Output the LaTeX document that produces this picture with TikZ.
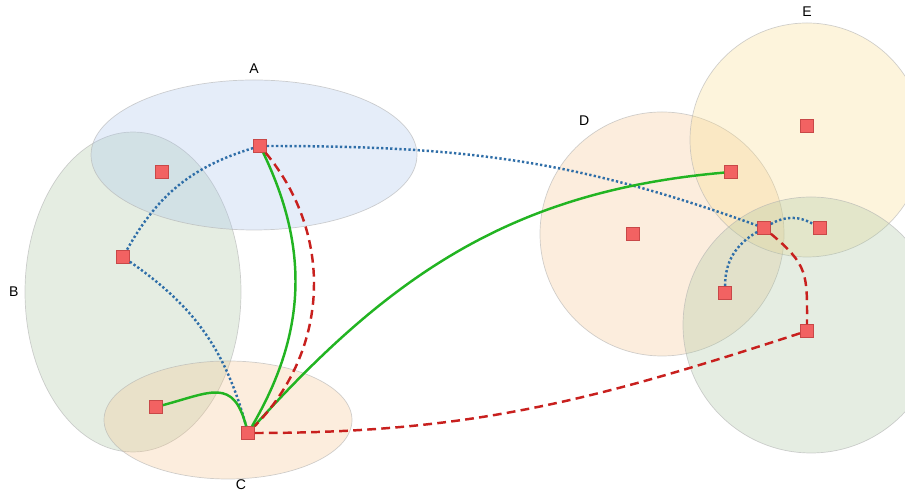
\documentclass[tikz,border=0pt]{standalone}
\usepackage{fontspec}
\setmainfont{Liberation Sans}
\usepackage{xcolor}
\usetikzlibrary{shapes.geometric,positioning}

\definecolor{setblue}{HTML}{A9C4EB}
\definecolor{setgreen}{HTML}{A8C5A0}
\definecolor{setpeach}{HTML}{F5C58E}
\definecolor{setyellow}{HTML}{F8DC8C}
\definecolor{elemfill}{HTML}{F26262}
\definecolor{elemborder}{HTML}{C84848}
\definecolor{linkgreen}{HTML}{22B422}
\definecolor{linkblue}{HTML}{2F6EA8}
\definecolor{linkred}{HTML}{C8201E}

\begin{document}
\begin{tikzpicture}[
  set/.style={ellipse,draw=gray!60,draw opacity=0.6,fill opacity=0.3,line width=0.4pt,inner sep=0pt},
  elem/.style={rectangle,draw=elemborder,fill=elemfill,minimum size=0.26cm,inner sep=0pt,line width=0.4pt},
  greenlink/.style={draw=linkgreen,line width=1.4pt},
  bluelink/.style={draw=linkblue,line width=1.4pt,dash pattern=on 1.3pt off 1.3pt},
  redlink/.style={draw=linkred,line width=1.4pt,dash pattern=on 5pt off 3pt},
  every label/.style={font=\footnotesize}
]
\useasboundingbox (0,0) rectangle (18.1,9.88);
\clip (0,0) rectangle (18.1,9.88);

% Sets
\node[set,fill=setgreen,minimum width=4.32cm,minimum height=6.4cm,label=left:B] (setB) at (2.66,4.04) {};
\node[set,fill=setblue,minimum width=6.52cm,minimum height=3.0cm,label=above:A] (setA) at (5.08,6.78) {};
\node[set,fill=setpeach,minimum width=4.96cm,minimum height=2.36cm,label={[label distance=-3.5pt,xshift=0.26cm]below:C}] (setC) at (4.56,1.48) {};
\node[set,circle,fill=setpeach,minimum size=4.88cm,label=123:D] (setD) at (13.24,5.20) {};
\node[set,circle,fill=setyellow,minimum size=4.68cm,label=above:E] (setE) at (16.14,7.08) {};
\node[set,circle,fill=setgreen,minimum size=5.12cm] (setF) at (16.22,3.38) {};

% Elements
\node[elem] (a1) at (5.20,6.96) {};
\node[elem] (a2) at (3.24,6.44) {};
\node[elem] (b1) at (2.46,4.74) {};
\node[elem] (c1) at (3.12,1.74) {};
\node[elem] (c2) at (4.96,1.22) {};
\node[elem] (d1) at (14.62,6.44) {};
\node[elem] (d2) at (12.66,5.20) {};
\node[elem] (e1) at (16.14,7.36) {};
\node[elem] (x) at (15.28,5.32) {};
\node[elem] (y) at (16.40,5.32) {};
\node[elem] (z) at (14.50,4.02) {};
\node[elem] (w) at (16.14,3.26) {};

% Links
\draw[bluelink] (a1) to[bend right=22] (b1);
\draw[bluelink] (b1) to[bend left=20] (c2);
\draw[bluelink] (a1) to[out=0,in=160] (x);
\draw[bluelink] (x) to[bend left=30] (y);
\draw[bluelink] (x) to[out=210,in=90] (z);
\draw[greenlink] (a1) to[bend left=28] (c2);
\draw[greenlink] (c2) to[out=105,in=15,looseness=1.5] (c1);
\draw[greenlink] (c2) to[out=48,in=185] (d1);
\draw[redlink] (a1) to[bend left=42] (c2);
\draw[redlink] (c2) to[out=0,in=198] (w);
\draw[redlink] (x) to[out=-40,in=90,looseness=1.3] (w);

\end{tikzpicture}
\end{document}
